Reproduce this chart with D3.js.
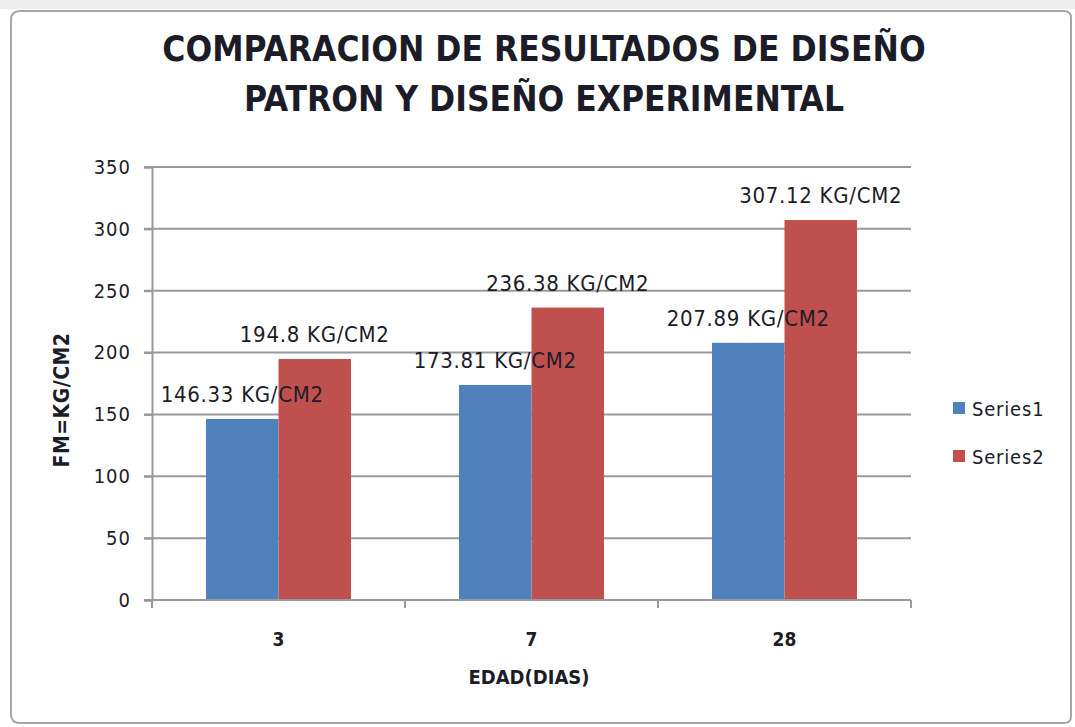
<!doctype html>
<html>
<head>
<meta charset="utf-8">
<style>
  body { margin: 0; background: #fff; }
  svg { display: block; }
  text { font-family: "Liberation Sans Narrow", "DejaVu Sans Condensed", "Open Sans", sans-serif; fill: #1c1c28; }
</style>
<script src="https://d3js.org/d3.v7.min.js"></script>
</head>
<body>
<svg width="1075" height="727"></svg>
<script>
var categories = ["3", "7", "28"];
var seriesNames = ["Series1", "Series2"];
var series1 = [146.33, 173.81, 207.89];
var series2 = [194.8, 236.38, 307.12];
var yTicks = [0, 50, 100, 150, 200, 250, 300, 350];
var colors = ["#4f81bd", "#c0504d"];

var svg = d3.select("svg");

// spreadsheet strip + chart frame
svg.append("rect").attr("x", 0).attr("y", 0).attr("width", 1075).attr("height", 9).attr("fill", "#eeeeee");
svg.append("path")
   .attr("d", "M11,20 Q11,11 20,11 L1064,11 Q1071,11 1071,18 L1071,716 Q1071,723 1064,723 L20,723 Q11,723 11,714 Z")
   .attr("fill", "#fff").attr("stroke", "#a6a6a6").attr("stroke-width", 2);

var plotLeft = 152, plotRight = 911, plotTop = 167, plotBottom = 600;

// gap width ~150% like Excel
var x0 = d3.scaleBand().domain(categories).range([plotLeft, plotRight]).paddingInner(0.427).paddingOuter(0.2135);
var x1 = d3.scaleBand().domain(seriesNames).range([0, x0.bandwidth()]);
var y = d3.scaleLinear().domain([0, 350]).range([plotBottom, plotTop]);

// gridlines
svg.append("g").selectAll("line").data(yTicks).enter().append("line")
   .attr("x1", plotLeft - 8).attr("x2", plotRight)
   .attr("y1", function(d) { return y(d); }).attr("y2", function(d) { return y(d); })
   .attr("stroke", "#999").attr("stroke-width", 2);

// y axis
var yAxis = svg.append("g").attr("transform", "translate(" + plotLeft + ",0)")
   .call(d3.axisLeft(y).tickValues(yTicks).tickSize(8).tickPadding(13));
yAxis.select(".domain").attr("stroke", "#999").attr("stroke-width", 2);
yAxis.selectAll(".tick line").attr("stroke", "#999").attr("stroke-width", 2);
yAxis.selectAll("text").style("font-size", "20px").style("letter-spacing", "1px").attr("fill", "#1c1c28");

// bars
var data = categories.map(function(c, i) { return { cat: c, vals: [series1[i], series2[i]] }; });
var groups = svg.append("g").selectAll("g").data(data).enter().append("g")
   .attr("transform", function(d) { return "translate(" + x0(d.cat) + ",0)"; });
groups.selectAll("rect").data(function(d) {
      return d.vals.map(function(v, j) { return { s: seriesNames[j], v: v, j: j }; });
   }).enter().append("rect")
   .attr("x", function(d) { return x1(d.s); })
   .attr("y", function(d) { return y(d.v); })
   .attr("width", x1.bandwidth())
   .attr("height", function(d) { return plotBottom - y(d.v); })
   .attr("fill", function(d) { return colors[d.j]; });

// x axis
var xTickPos = [0, 1, 2, 3].map(function(i) { return plotLeft + (plotRight - plotLeft) * i / 3; });
svg.append("line").attr("x1", plotLeft - 8).attr("x2", plotRight).attr("y1", plotBottom).attr("y2", plotBottom)
   .attr("stroke", "#999").attr("stroke-width", 2);
svg.append("g").selectAll("line").data(xTickPos).enter().append("line")
   .attr("x1", function(d) { return d; }).attr("x2", function(d) { return d; })
   .attr("y1", plotBottom).attr("y2", plotBottom + 8)
   .attr("stroke", "#999").attr("stroke-width", 2);
svg.append("g").selectAll("text").data(categories).enter().append("text")
   .attr("x", function(d) { return x0(d) + x0.bandwidth() / 2; })
   .attr("y", 646).attr("text-anchor", "middle")
   .style("font-size", "19px").style("font-weight", "bold")
   .text(function(d) { return d; });

// data labels
groups.selectAll("text.lbl").data(function(d) {
      return d.vals.map(function(v, j) { return { s: seriesNames[j], v: v, j: j }; });
   }).enter().append("text").attr("class", "lbl")
   .attr("x", function(d) { return x1(d.s) + x1.bandwidth() / 2; })
   .attr("y", function(d) { return y(d.v) - 17; })
   .attr("text-anchor", "middle")
   .style("font-size", "22px").style("letter-spacing", "0.7px")
   .text(function(d) { return d.v + " KG/CM2"; });

// titles
svg.append("text").attr("x", 544).attr("y", 61).attr("text-anchor", "middle")
   .style("font-size", "35px").style("font-weight", "bold")
   .text("COMPARACION DE RESULTADOS DE DISEÑO");
svg.append("text").attr("x", 544).attr("y", 111).attr("text-anchor", "middle")
   .style("font-size", "35px").style("font-weight", "bold")
   .text("PATRON Y DISEÑO EXPERIMENTAL");
svg.append("text").attr("x", 529).attr("y", 684).attr("text-anchor", "middle")
   .style("font-size", "20px").style("font-weight", "bold")
   .text("EDAD(DIAS)");
svg.append("text").attr("transform", "translate(69,400) rotate(-90)").attr("text-anchor", "middle")
   .style("font-size", "21px").style("font-weight", "bold").style("letter-spacing", "0.5px")
   .text("FM=KG/CM2");

// legend
var legend = svg.append("g").selectAll("g").data(seriesNames).enter().append("g")
   .attr("transform", function(d, i) { return "translate(953," + (402 + i * 48) + ")"; });
legend.append("rect").attr("width", 12).attr("height", 12)
   .attr("fill", function(d, i) { return colors[i]; });
legend.append("text").attr("x", 19).attr("y", 14).style("font-size", "20px").style("letter-spacing", "0.8px")
   .text(function(d) { return d; });
</script>
</body>
</html>
